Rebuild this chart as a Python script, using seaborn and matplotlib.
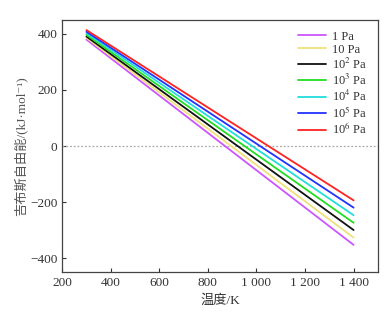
import pandas as pd
import numpy as np
import seaborn as sns
import matplotlib.pyplot as plt

# pressures and Gibbs free energy at the two ends of the temperature range
labels = ['1 Pa', '10 Pa', '10$^2$ Pa', '10$^3$ Pa', '10$^4$ Pa', '10$^5$ Pa', '10$^6$ Pa']
temps = [300, 1400]
g_start = [380, 386, 391, 397, 403, 408, 414]
g_end = [-353, -327, -300, -274, -247, -220, -194]
colors = ['#cc55ff', '#f0e07a', '#111111', '#22dd22', '#22dddd', '#2233ff', '#ff2222']

rows = []
for lab, a, b in zip(labels, g_start, g_end):
    rows.append({'T': temps[0], 'G': a, 'p': lab})
    rows.append({'T': temps[1], 'G': b, 'p': lab})
df = pd.DataFrame(rows)

sns.set_style('ticks')
plt.rcParams['font.family'] = ['Liberation Serif', 'Noto Sans CJK SC', 'DejaVu Serif']
plt.rcParams['mathtext.fontset'] = 'stix'

fig = plt.figure(figsize=(3.86, 3.12), dpi=100)
ax = fig.add_axes([0.161, 0.128, 0.818, 0.808])

ax.axhline(0, color='#aaaaaa', lw=0.9, ls=(0, (1.5, 1.5)), zorder=1)
sns.lineplot(data=df, x='T', y='G', hue='p', palette=colors, lw=1.3, ax=ax)

ax.set_xlim(200, 1500)
ax.set_ylim(-450, 450)
ax.set_xticks([200, 400, 600, 800, 1000, 1200, 1400])
ax.set_xticklabels(['200', '400', '600', '800', '1 000', '1 200', '1 400'])
ax.set_yticks([-400, -200, 0, 200, 400])
ax.set_yticklabels(['\u2212400', '\u2212200', '0', '200', '400'])
ax.tick_params(direction='in', length=3, width=0.8, labelsize=9.5, colors='#333333')
for s in ax.spines.values():
    s.set_color('#444444')
    s.set_linewidth(0.9)

ax.set_xlabel('温度/K', fontsize=9.5, color='#333333')
ax.set_ylabel('吉布斯自由能/(kJ·mol\u207b\u00b9)', fontsize=9.5, color='#555555', labelpad=2)

leg = ax.legend(loc='upper right', frameon=False, fontsize=9, handlelength=2.2,
                labelspacing=0.08, borderaxespad=0.45, handletextpad=0.5)
for t in leg.get_texts():
    t.set_color('#333333')

fig.savefig('out.png', dpi=100)
